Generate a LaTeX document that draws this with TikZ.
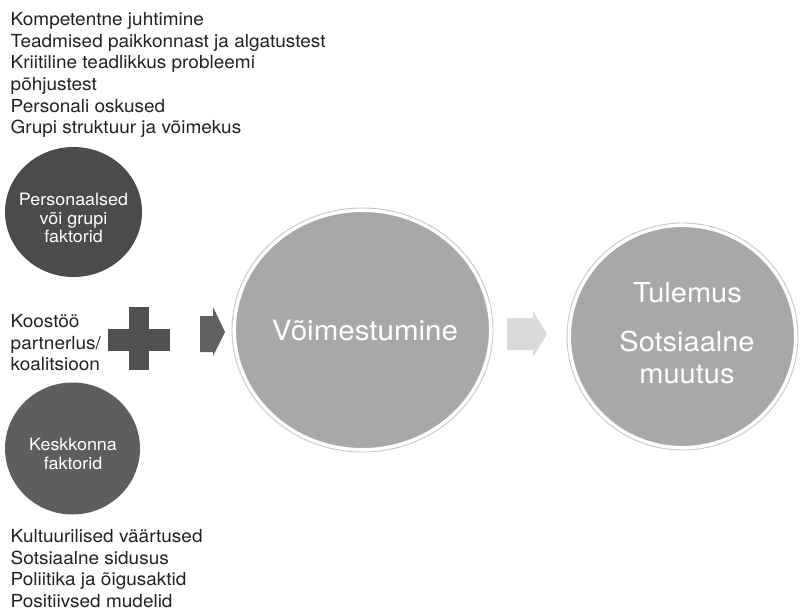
\documentclass[tikz,border=0pt]{standalone}
\usepackage{fontspec}
\setmainfont[FakeStretch=1.055]{TeX Gyre Heros}
\usetikzlibrary{shapes.geometric}
\definecolor{darkA}{HTML}{4B4B4B}
\definecolor{darkB}{HTML}{5E5E5E}
\definecolor{bigfill}{HTML}{A8A8A8}
\definecolor{plusc}{HTML}{505050}
\definecolor{arrA}{HTML}{606060}
\definecolor{arrB}{HTML}{DADADA}
\definecolor{txt}{HTML}{222222}
\begin{document}
\begin{tikzpicture}[x=1pt,y=-1pt,
  listtxt/.style={inner sep=0pt, anchor=north west, align=left, text=txt,
    font=\fontsize{18}{21.7}\selectfont},
  darkcirc/.style={ellipse, inner sep=0pt, draw=none},
  circtxt/.style={inner sep=0pt, align=center, text=white,
    font=\fontsize{17}{18.6}\selectfont},
  bigcirc/.style={ellipse, inner sep=0pt, fill=bigfill, draw=white, line width=3pt},
  ringline/.style={draw=black!22, line width=0.9pt},
  bigtxt/.style={inner sep=0pt, align=center, text=white,
    font=\fontsize{27.5}{32}\selectfont},
  blockarrow/.style={draw=none}
]
\useasboundingbox (0,0) rectangle (802,611);
\fill[white] (0,0) rectangle (802,611);

% upper list
\node[listtxt] (toplist) at (10.5,12) {Kompetentne juhtimine\\Teadmised paikkonnast ja algatustest\\Kriitiline teadlikkus probleemi\\põhjustest\\Personali oskused\\Grupi struktuur ja võimekus};

% personal factors circle
\node[darkcirc, fill=darkA, minimum width=137pt, minimum height=130pt] (pers) at (73.5,212) {};
\node[circtxt, anchor=north] (perstxt) at (73.5,193) {Personaalsed\\või grupi\\faktorid};

% cooperation text and plus
\node[listtxt] (koos) at (10.5,314) {Koostöö\\partnerlus/\\koalitsioon};
\coordinate (plus) at (139,339);
\fill[plusc] (129,307) rectangle (149,370);
\fill[plusc] (108,329) rectangle (170,351);

% environment circle
\node[darkcirc, fill=darkB, minimum width=135pt, minimum height=132pt] (kesk) at (72.5,448.5) {};
\node[circtxt, anchor=north] (kesktxt) at (73,438) {Keskkonna\\faktorid};

% lower list
\node[listtxt] (botlist) at (10.5,529) {Kultuurilised väärtused\\Sotsiaalne sidusus\\Poliitika ja õigusaktid\\Positiivsed mudelid};

% first block arrow
\fill[arrA, blockarrow] (200,316) -- (213,316) -- (213,307) -- (225,332) -- (213,356) -- (213,352) -- (200,352) -- cycle;

% empowerment circle
\node[bigcirc, minimum width=256pt, minimum height=239pt] (voim) at (362.5,330) {};
\draw[ringline] (voim.center) ellipse [x radius=130.5pt, y radius=122pt];
\node[bigtxt, anchor=base, font=\fontsize{28}{32}\selectfont] (voimtxt) at (365,340) {Võimestumine};

% second block arrow
\fill[arrB, blockarrow] (507,318) -- (533,318) -- (533,311) -- (547,334) -- (533,357) -- (533,350) -- (507,350) -- cycle;

% outcome circle
\node[bigcirc, minimum width=226pt, minimum height=222pt] (tul) at (682.5,336.5) {};
\draw[ringline] (tul.center) ellipse [x radius=115.5pt, y radius=113.5pt];
\node[bigtxt, anchor=base] (tultxt) at (687.5,302) {Tulemus};
\node[bigtxt, anchor=north] (sotstxt) at (687,331) {Sotsiaalne\\muutus};
\end{tikzpicture}
\end{document}
